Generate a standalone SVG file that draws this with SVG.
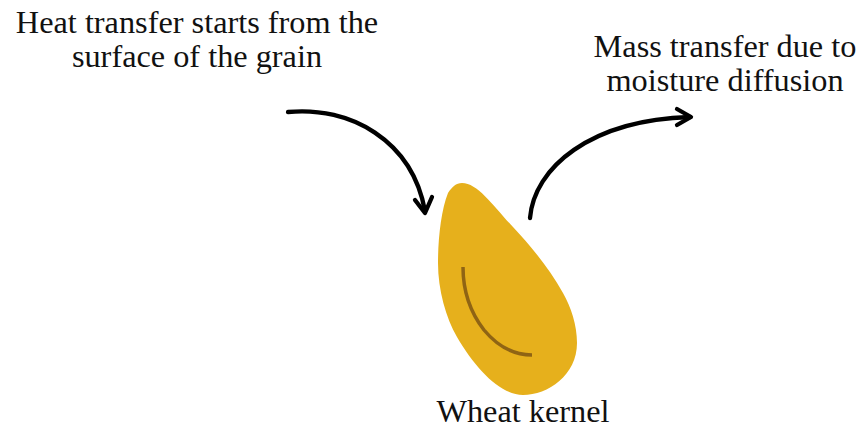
<svg xmlns="http://www.w3.org/2000/svg" width="857" height="429" viewBox="0 0 857 429">
<style>
text{font-family:"Liberation Serif","Times New Roman",serif;font-size:32.300px;fill:#111;text-anchor:middle}
.c{fill:none;stroke:#000;stroke-width:4.300;stroke-linecap:round;stroke-linejoin:round}
</style>
<rect width="857" height="429" fill="#fff"/>
<g id="kernel">
<path d="M462 183C478 183 494 207 513 227C530 245 549 268 563 293C571 307 577 325 577 343C577 375 548 395 523 395C500 395 475 368 457 337C446 318 438 290 438 263C438 240 441 210 448 193C452 187 456 183 462 183Z" fill="#e6b01c"/>
<path d="M463 267C463 290 470 312 484 330C499 348 515 355 532 355" fill="none" stroke="#8f6414" stroke-width="3.500"/>
</g>
<g id="connectors">
<path class="c" d="M288 112C350 106 412 140 425 211"/>
<path class="c" d="M415 200L425 213L432 197"/>
<path class="c" d="M530 218C534 168 590 120 690 117"/>
<path class="c" d="M677 109L691 117L677 125"/>
</g>
<g id="label-heat"><text x="197" y="33">Heat transfer starts from the</text><text x="197" y="67">surface of the grain</text></g>
<g id="label-mass"><text x="725" y="57">Mass transfer due to</text><text x="725" y="91">moisture diffusion</text></g>
<g id="label-kernel"><text x="523" y="422">Wheat kernel</text></g>
</svg>
